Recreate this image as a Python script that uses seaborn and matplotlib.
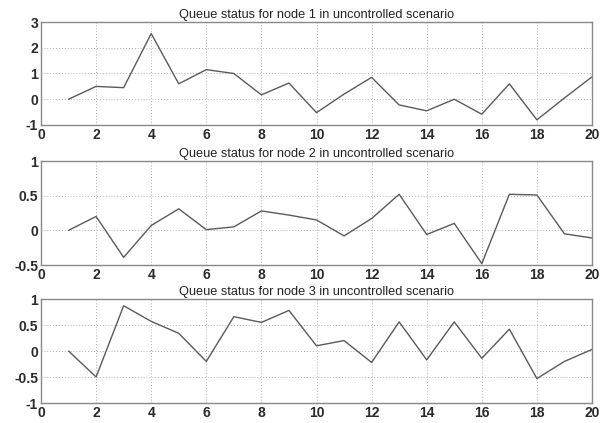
import matplotlib
matplotlib.use("Agg")
import matplotlib.pyplot as plt
import seaborn as sns
import pandas as pd

sns.set_style("white")
plt.rcParams['font.family'] = ['Liberation Sans', 'DejaVu Sans']

steps = list(range(1, 21))
node1 = [0, 0.5, 0.45, 2.55, 0.6, 1.15, 1.0, 0.17, 0.63, -0.52,
         0.2, 0.85, -0.22, -0.45, 0.0, -0.58, 0.6, -0.8, 0.05, 0.87]
node2 = [0, 0.2, -0.39, 0.07, 0.31, 0.01, 0.05, 0.28, 0.22, 0.15,
         -0.08, 0.17, 0.52, -0.06, 0.1, -0.48, 0.52, 0.51, -0.05, -0.11]
node3 = [0, -0.5, 0.87, 0.57, 0.34, -0.2, 0.66, 0.55, 0.78, 0.1,
         0.2, -0.22, 0.56, -0.17, 0.56, -0.14, 0.42, -0.53, -0.2, 0.03]

titles = ["Queue status for node 1 in uncontrolled scenario",
          "Queue status for node 2 in uncontrolled scenario",
          "Queue status for node 3 in uncontrolled scenario"]
ylims = [(-1, 3), (-0.5, 1), (-1, 1)]
yticks = [[-1, 0, 1, 2, 3], [-0.5, 0, 0.5, 1], [-1, -0.5, 0, 0.5, 1]]
yticklabels = [["-1", "0", "1", "2", "3"], ["-0.5", "0", "0.5", "1"],
               ["-1", "-0.5", "0", "0.5", "1"]]
xticks = [0, 2, 4, 6, 8, 10, 12, 14, 16, 18, 20]

fig = plt.figure(figsize=(6.14, 4.23), dpi=100)
W, H = 614, 423
boxes = [(22, 125), (161, 265), (299, 403)]
left, right = 41, 592

for i, (series, (top, bot)) in enumerate(zip([node1, node2, node3], boxes)):
    ax = fig.add_axes([left / W, 1 - bot / H, (right - left) / W, (bot - top) / H])
    df = pd.DataFrame({"step": steps, "q": series})
    sns.lineplot(data=df, x="step", y="q", ax=ax, color="#5a5a5a", linewidth=1.0)
    ax.set_xlim(0, 20)
    ax.set_ylim(*ylims[i])
    ax.set_xticks(xticks)
    ax.set_xticklabels([str(t) for t in xticks])
    ax.set_yticks(yticks[i])
    ax.set_yticklabels(yticklabels[i])
    ax.set_xlabel("")
    ax.set_ylabel("")
    ax.grid(True, linestyle=(0, (1, 2)), color="#b0b0b0", linewidth=0.7)
    ax.tick_params(direction="in", length=3, color="#777777", labelsize=10,
                   labelcolor="#2a2a2a", pad=2)
    for lab in ax.get_xticklabels() + ax.get_yticklabels():
        lab.set_fontweight("bold")
    for sp in ax.spines.values():
        sp.set_color("#888888")
        sp.set_linewidth(1.0)
    ax.set_title(titles[i], fontsize=9.2, color="#222222", pad=3)

fig.savefig("out.png", dpi=100)
